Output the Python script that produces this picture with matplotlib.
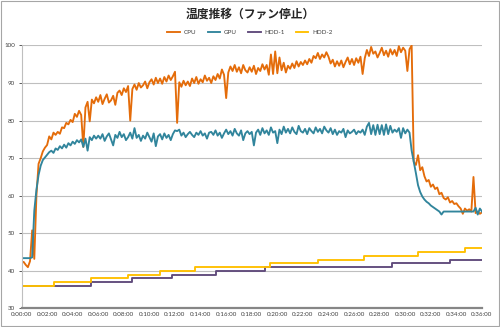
import matplotlib
matplotlib.use("Agg")
import matplotlib.pyplot as plt
import numpy as np
from matplotlib.patches import Rectangle

# temperatures logged every 10 seconds, one row per minute
cpu_temp = [
    42.2, 42.4, 41.6, 41.0, 42.6, 50.8,
    43.2, 60.0, 68.5, 70.0, 71.8, 72.8,
    73.5, 75.8, 75.0, 76.8, 76.2, 77.0,
    76.5, 78.2, 78.0, 79.4, 79.0, 80.2,
    79.6, 81.8, 81.0, 82.6, 81.5, 73.0,
    83.5, 85.0, 79.8, 85.6, 84.6, 86.2,
    85.0, 86.8, 84.4, 85.8, 87.0, 84.8,
    85.4, 86.6, 84.2, 87.4, 88.0, 86.8,
    88.6, 87.6, 89.2, 80.0, 88.4, 89.6,
    88.2, 90.0, 88.8, 89.4, 90.4, 88.6,
    90.2, 91.0, 89.6, 91.4, 90.0, 91.2,
    89.8, 91.6, 90.4, 92.0, 90.8, 91.8,
    93.0, 79.4, 90.2, 89.0, 90.6, 89.4,
    90.4, 89.2, 91.2, 90.0, 91.6, 89.8,
    91.0, 90.2, 92.0, 90.6, 91.4, 90.0,
    91.8, 90.8, 92.4, 91.2, 93.6, 92.2,
    86.0, 92.8, 94.4, 93.2, 94.8, 93.0,
    94.2, 92.6, 94.8, 93.4, 92.8, 94.2,
    93.0, 94.6, 92.4, 94.0, 93.2, 95.0,
    93.6, 94.8, 92.2, 97.6, 92.4, 98.4,
    92.6, 96.8, 93.4, 95.4, 92.8, 94.6,
    93.8, 95.2, 94.0, 95.8, 94.4, 95.6,
    94.8, 96.0, 95.0, 96.4, 95.4, 97.2,
    96.6, 98.0, 96.4, 97.6, 96.8, 98.2,
    97.0, 95.2, 96.2, 94.4, 95.8, 94.6,
    96.0, 94.2, 95.6, 96.8, 95.0, 96.4,
    94.8, 96.6, 95.4, 97.0, 92.4, 96.6,
    98.8, 97.2, 99.6, 97.8, 98.4, 96.8,
    98.0, 99.4, 97.4, 98.6, 97.0, 99.0,
    97.6, 98.8, 97.2, 99.8, 98.2, 99.4,
    98.6, 93.2, 99.0, 100.0, 69.0, 68.2,
    70.8, 66.8, 67.6, 65.2, 63.8, 64.2,
    62.4, 63.0, 61.8, 62.2, 60.4, 60.8,
    59.4, 59.0, 59.6, 58.2, 58.6, 57.8,
    58.0, 57.2, 56.6, 55.2, 56.6, 56.0,
    56.4, 55.8, 65.0, 55.4, 55.8, 55.2,
    55.6,
]

gpu_temp = [
    43.4, 43.4, 43.4, 43.4, 43.4, 43.6,
    56.0, 61.6, 65.5, 68.0, 69.5, 70.2,
    70.9, 71.6, 72.0, 71.4, 72.6, 72.2,
    73.2, 72.6, 73.6, 72.8, 74.0, 73.4,
    74.4, 73.8, 74.8, 74.2, 75.0, 73.0,
    75.2, 72.0, 75.6, 74.8, 76.0, 75.2,
    76.0, 75.2, 76.4, 74.6, 75.8, 76.6,
    75.0, 73.4, 76.2, 75.4, 77.0, 75.6,
    76.4, 74.8, 75.6, 76.8, 75.2, 78.0,
    75.4, 76.2, 74.6, 76.0, 75.2, 76.8,
    75.6, 74.4, 76.6, 73.2, 75.8, 76.4,
    75.0, 76.6, 75.4, 76.2, 74.8, 76.4,
    77.4, 77.2, 77.6, 76.0, 76.8, 75.6,
    76.4, 77.0, 76.2, 75.6, 76.8, 76.2,
    77.2, 76.0, 76.6, 75.2, 76.8, 77.0,
    76.2, 77.4, 76.0, 76.8, 75.4, 76.6,
    77.6, 76.4, 77.2, 76.0, 77.8, 76.6,
    76.0, 77.4, 74.8, 76.6, 77.2, 76.4,
    77.0, 73.4, 76.8, 77.6, 76.2, 78.0,
    76.6, 77.4, 76.2, 78.2, 76.8, 77.2,
    74.0, 77.6, 76.4, 78.4, 76.8, 77.8,
    76.6, 78.2, 77.0, 76.4, 78.6, 77.2,
    76.8, 77.8, 76.4, 78.0, 77.2, 76.6,
    78.2, 77.0, 77.8, 76.6, 78.4, 77.4,
    76.8, 78.0, 76.4, 77.6, 76.2, 77.2,
    76.8, 77.8, 75.6, 77.4, 76.6, 77.0,
    77.6, 76.4, 77.2, 76.8, 77.6, 76.2,
    78.4, 79.4, 76.4, 78.8, 76.2, 78.9,
    76.4, 78.8, 76.2, 79.0, 76.4, 78.6,
    76.8, 77.6, 77.0, 78.0, 75.4, 78.0,
    76.6, 77.6, 76.8, 72.0, 69.0, 66.0,
    62.8, 61.0, 59.8, 59.0, 58.4, 58.0,
    57.4, 57.0, 56.6, 56.2, 55.8, 55.0,
    55.8, 55.8, 55.8, 55.8, 55.8, 55.8,
    55.8, 55.8, 55.8, 55.8, 55.8, 55.8,
    55.8, 55.8, 55.8, 56.8, 55.0, 56.6,
    55.8,
]

# HDD sensors only change in whole degrees: minute of change -> new value
hdd1_minutes = [0, 5.46, 8.67, 11.8, 15.2, 19.0, 29.0, 33.5, 36.0]
hdd1_temp = [36, 37, 38, 39, 40, 41, 42, 43, 43]
hdd2_minutes = [0, 2.54, 5.46, 8.36, 10.86, 13.55, 19.4, 23.15, 26.75, 31.0, 34.7, 36.0]
hdd2_temp = [36, 37, 38, 39, 40, 41, 42, 43, 44, 45, 46, 46]

x_tick_minutes = list(range(0, 37, 2))
x_tick_labels = ["0:00:00", "0:02:00", "0:04:00", "0:06:00", "0:08:00", "0:10:00",
                 "0:12:00", "0:14:00", "0:16:00", "0:18:00", "0:20:00", "0:22:00",
                 "0:24:00", "0:26:00", "0:28:00", "0:30:00", "0:32:00", "0:34:00",
                 "0:36:00"]
y_ticks = [30, 40, 50, 60, 70, 80, 90, 100]

plt.rcParams["font.family"] = ["Lato", "Noto Sans CJK JP", "DejaVu Sans"]

sample_minutes = np.arange(len(cpu_temp)) * 10 / 60

fig = plt.figure(figsize=(5.0, 3.27), dpi=100)
ax = fig.add_axes([0.043, 0.0566, 0.921, 0.8044])

lw = 1.35
ax.plot(sample_minutes, cpu_temp, color="#E46C0A", lw=lw, label="CPU")
ax.plot(sample_minutes, gpu_temp, color="#31859C", lw=lw, label="GPU")
ax.plot(hdd1_minutes, hdd1_temp, color="#604A7B", lw=lw, drawstyle="steps-post", label="HDD-1")
ax.plot(hdd2_minutes, hdd2_temp, color="#FFC000", lw=lw, drawstyle="steps-post", label="HDD-2")

ax.set_xlim(0, 36)
ax.set_ylim(30, 100)
ax.set_yticks(y_ticks)
ax.set_xticks(x_tick_minutes)
ax.set_xticklabels(x_tick_labels)
ax.tick_params(axis="both", labelsize=4.5, colors="#404040", length=2, width=0.6)
ax.tick_params(axis="y", pad=2.5)
ax.tick_params(axis="x", pad=2.5, length=0)
ax.grid(axis="y", color="#BFBFBF", lw=0.8)
ax.set_axisbelow(True)
for side in ("top", "right"):
    ax.spines[side].set_visible(False)
ax.spines["left"].set_color("#BFBFBF")
ax.spines["left"].set_linewidth(0.8)
ax.spines["bottom"].set_color("#868686")
ax.spines["bottom"].set_linewidth(1.6)

fig.text(0.5, 0.957, "温度推移（ファン停止）", ha="center", va="center",
         fontsize=8.5, fontweight="bold", color="#262626",
         family=["Noto Sans CJK JP", "DejaVu Sans"])

fig.legend(loc="center", bbox_to_anchor=(0.5, 0.901), ncol=4, frameon=False,
           fontsize=4.5, handlelength=2.0, handletextpad=0.6, columnspacing=1.8,
           labelcolor="#404040")

# thin frame around the whole chart area
fig.patches.append(Rectangle((0.002, 0.003), 0.995, 0.993, transform=fig.transFigure,
                             fill=False, edgecolor="#A6A6A6", lw=0.8))

fig.savefig("out.png", dpi=100, facecolor="white")
